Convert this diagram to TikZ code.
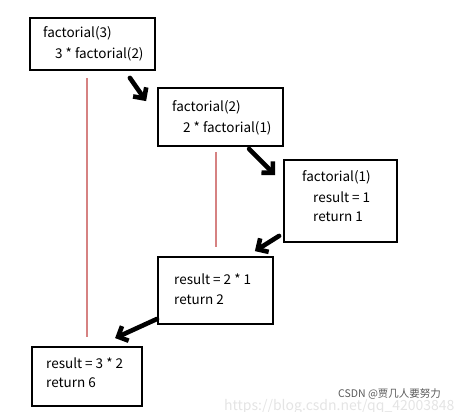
\documentclass[tikz,border=0pt]{standalone}
\usepackage{fontspec}
\setmainfont{Noto Sans CJK SC}
\usetikzlibrary{arrows.meta,calc}
\definecolor{redline}{RGB}{214,130,130}
\definecolor{wm}{RGB}{90,90,90}
\definecolor{wmlight}{RGB}{228,228,228}
\tikzset{
  box/.style={draw=black,line width=1.8pt,inner sep=0pt},
  txt/.style={anchor=base west,inner sep=0pt,font=\fontsize{13.5}{16}\selectfont},
  arr/.style={line width=4.6pt,line cap=round,-{Straight Barb[length=8pt,width=16pt,line width=4.6pt]}},
  vline/.style={draw=redline,line width=1.1pt},
}
\begin{document}
\begin{tikzpicture}[x=1pt,y=-1pt]
\useasboundingbox (0,0) rectangle (467,412);
% boxes
\node[box,minimum width=125pt,minimum height=52pt] (b1) at (92.5,44) {};
\node[box,minimum width=125pt,minimum height=58pt] (b2) at (220.5,117) {};
\node[box,minimum width=113pt,minimum height=82pt] (b3) at (340.5,201) {};
\node[box,minimum width=115pt,minimum height=67pt] (b4) at (215.5,290.5) {};
\node[box,minimum width=110pt,minimum height=59pt] (b5) at (87,376.5) {};
% texts
\node[txt] (t11) at (43,38) {factorial(3)};
\node[txt] (t12) at (55,59) {3 * factorial(2)};
\node[txt] (t21) at (172,112) {factorial(2)};
\node[txt] (t22) at (183,133) {2 * factorial(1)};
\node[txt] (t31) at (302,182) {factorial(1)};
\node[txt] (t32) at (313,203) {result = 1};
\node[txt] (t33) at (313,222) {return 1};
\node[txt] (t41) at (174,285) {result = 2 * 1};
\node[txt] (t42) at (174,305) {return 2};
\node[txt] (t51) at (46,369) {result = 3 * 2};
\node[txt] (t52) at (46,388) {return 6};
% red lines
\coordinate (r1a) at (87,78);
\coordinate (r1b) at (87,337);
\coordinate (r2a) at (216,152);
\coordinate (r2b) at (216,247);
\draw[vline] (r1a) -- (r1b);
\draw[vline] (r2a) -- (r2b);
% arrows
\draw[arr] ($(b1.south east)+(-26,7)$) -- ($(b2.north west)+(-11,14)$);
\draw[arr] ($(b2.south west)+(92,2)$) -- ($(b3.north west)+(-8,16)$);
\draw[arr] ($(b3.south west)+(-4,-7)$) -- ($(b4.north east)+(-19,-5)$);
\draw[arr] ($(b4.south west)+(0,-6)$) -- ($(b5.north west)+(84,-8)$);
% watermark
\node[anchor=base west,inner sep=0pt,text=wmlight,font=\fontsize{14}{16}\selectfont] (url) at (224,410) {https://blog.csdn.net/qq\_42003848};
\node[anchor=base west,inner sep=0pt,text=wm,font=\fontsize{10.5}{12}\selectfont] (csdn) at (338,398) {CSDN @贾几人要努力};
\end{tikzpicture}
\end{document}
